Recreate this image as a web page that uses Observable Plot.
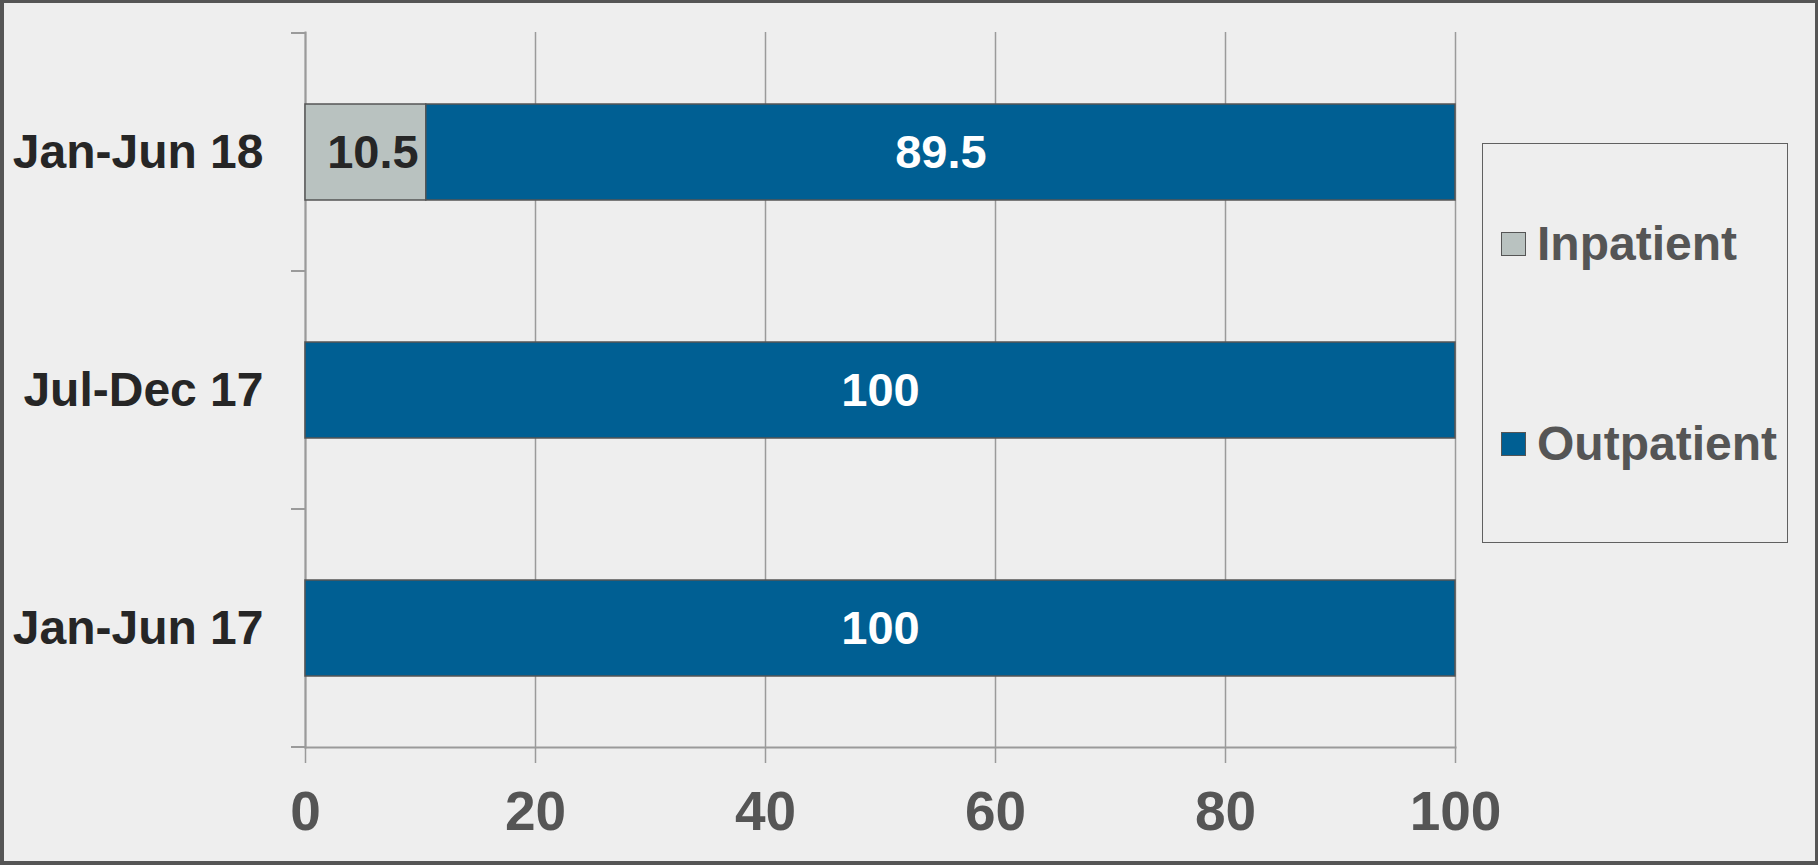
<!DOCTYPE html>
<html>
<head>
<meta charset="utf-8">
<script src="https://cdn.jsdelivr.net/npm/d3@7"></script>
<script src="https://cdn.jsdelivr.net/npm/@observablehq/plot@0.6"></script>
<style>
  html, body { margin: 0; padding: 0; background: #eeeeee; }
  #wrap { position: relative; width: 1818px; height: 865px; background: #eeeeee; overflow: hidden;
          font-family: "Liberation Sans", Arial, sans-serif; }
  #chart { position: absolute; left: 0; top: 0; }
  #border { position: absolute; left: 0; top: 0; right: 0; bottom: 0; box-sizing: border-box;
            border-style: solid; border-color: #555555; border-width: 3px 3px 4px 4px; pointer-events: none; }
  #legend { position: absolute; left: 1482px; top: 143px; width: 306px; height: 400px; box-sizing: border-box;
            border: 1.5px solid #606060; }
  .item { position: absolute; left: 18px; display: flex; align-items: center; }
  .sw { width: 23px; height: 22px; border: 1.5px solid #555555; margin-right: 11px; }
  .lab { font-weight: bold; font-size: 48px; color: #555555; line-height: 1; }
</style>
</head>
<body>
<div id="wrap">
  <div id="chart"></div>
  <div id="legend"></div>
  <div id="border"></div>
</div>
<script>
const categories = ["Jan-Jun 18", "Jul-Dec 17", "Jan-Jun 17"];
const seriesNames = ["Inpatient", "Outpatient"];
const inpatient = [10.5, 0, 0];
const outpatient = [89.5, 100, 100];
const seriesColors = ["#b9c2c0", "#005f93"];
const labelColors = ["#262626", "#ffffff"];
const xTicks = [0, 20, 40, 60, 80, 100];

const values = [inpatient, outpatient];
const data = [];
seriesNames.forEach((s, si) => {
  categories.forEach((c, ci) => {
    data.push({category: c, series: s, value: values[si][ci]});
  });
});
const shown = data.filter(d => d.value > 0);

const W = 1818, H = 865;
const plot = Plot.plot({
  width: W,
  height: H,
  marginLeft: 305,
  marginRight: 363,
  marginTop: 32,
  marginBottom: 118,
  style: {background: "transparent", fontFamily: "'Liberation Sans', Arial, sans-serif", overflow: "visible"},
  x: {domain: [0, 100]},
  y: {domain: categories, paddingInner: 0.597, paddingOuter: 0.2985},
  color: {domain: seriesNames, range: seriesColors},
  marks: [
    Plot.gridX(xTicks, {stroke: "#9a9a9a", strokeOpacity: 1, strokeWidth: 1.5}),
    Plot.frame({anchor: "left", stroke: "#9a9a9a", strokeWidth: 2}),
    Plot.frame({anchor: "bottom", stroke: "#9a9a9a", strokeWidth: 2}),
    Plot.barX(shown, Plot.stackX({x: "value", y: "category", fill: "series", order: seriesNames,
      stroke: "#555555", strokeWidth: 1.5})),
    Plot.text(shown, Plot.stackX({x: "value", y: "category", z: "series", order: seriesNames,
      text: d => String(d.value),
      fill: d => labelColors[seriesNames.indexOf(d.series)],
      fontSize: 47, fontWeight: "bold"})),
    Plot.axisX({ticks: xTicks, tickSize: 16, tickPadding: 27, fontSize: 55, fontWeight: "bold",
      color: "#555555", stroke: "#9a9a9a", strokeWidth: 1.5, label: null}),
    Plot.axisY({tickSize: 0, tickPadding: 42, fontSize: 48, fontWeight: "bold", color: "#262626", label: null})
  ]
});
document.getElementById("chart").appendChild(plot);

const ys = plot.scale("y");
const xs = plot.scale("x");

// nudge the dark (Inpatient) labels slightly right, as in the original
d3.select(plot).selectAll('g[aria-label="text"] text').each(function() {
  const t = d3.select(this);
  if (t.attr("fill") === labelColors[0]) {
    const tr = t.attr("transform") || "";
    t.attr("transform", tr + " translate(7,0)");
  }
});

// band-boundary ticks on the y axis, from the library's scales
const x0 = xs.apply(0);
const gap = ys.step - ys.bandwidth;
const bounds = categories.map(c => ys.apply(c) - gap / 2);
bounds.push(ys.apply(categories[categories.length - 1]) + ys.bandwidth + gap / 2);
const g = d3.select(plot).append("g").attr("stroke", "#9a9a9a").attr("stroke-width", 2);
bounds.forEach(b => {
  g.append("line").attr("x1", x0 - 14).attr("x2", x0).attr("y1", b).attr("y2", b);
});

// legend
const legend = document.getElementById("legend");
const itemTops = [76, 276];
seriesNames.forEach((s, i) => {
  const it = document.createElement("div");
  it.className = "item";
  it.style.top = itemTops[i] + "px";
  const sw = document.createElement("div");
  sw.className = "sw";
  sw.style.background = seriesColors[i];
  const lab = document.createElement("div");
  lab.className = "lab";
  lab.textContent = s;
  it.appendChild(sw);
  it.appendChild(lab);
  legend.appendChild(it);
});
</script>
</body>
</html>
